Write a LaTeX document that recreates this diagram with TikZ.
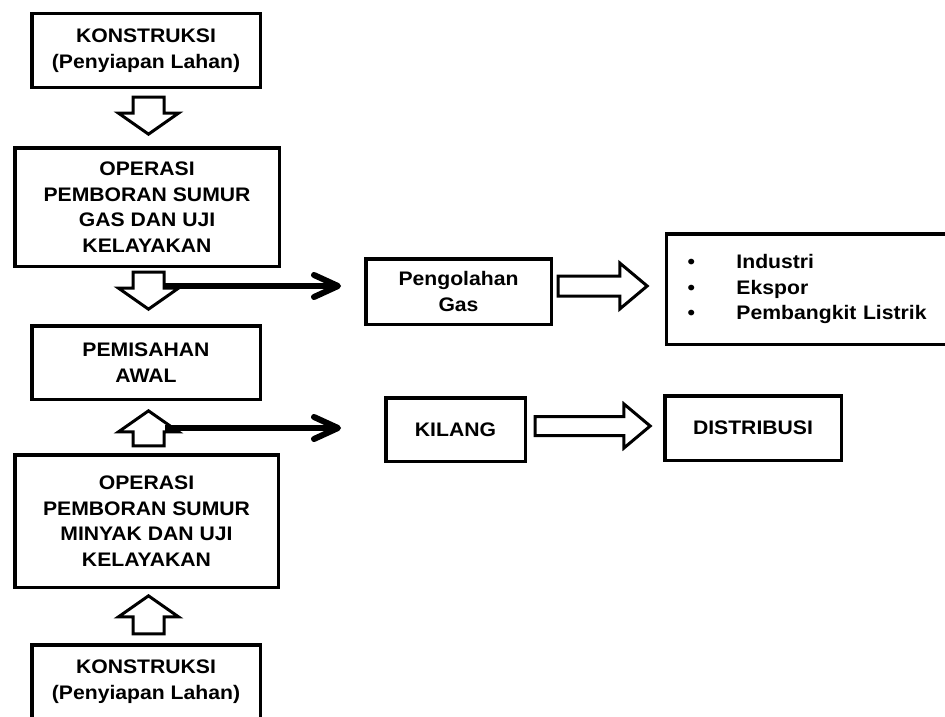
\documentclass[tikz,border=0pt]{standalone}
\usepackage{fontspec}
\setmainfont{Liberation Sans}[FakeStretch=1.08]
\usetikzlibrary{shapes.arrows,arrows.meta}

\begin{document}
\begin{tikzpicture}[x=1pt,y=-1pt]
        \tikzstyle{every node}=[font=\fontsize{19.6}{25.5}\selectfont\bfseries]
        \tikzstyle{kotak}=[draw,line width=3.5pt,align=center,inner sep=0pt]
        \tikzstyle{panah}=[draw,fill=white,single arrow,line width=3pt,inner xsep=0pt,minimum width=0pt,single arrow head indent=0pt,anchor=tip]
        \tikzstyle{panahv}=[panah,inner ysep=14pt,single arrow head extend=14.5pt,single arrow tip angle=110]
        \tikzstyle{panahh}=[panah,single arrow tip angle=80]
        \tikzstyle{alir}=[line width=6pt,-{Straight Barb[length=24pt,width=22pt,round]}]
        \useasboundingbox (0,0) rectangle (945,717);
        % jalur gas dan minyak
        \node[kotak,minimum width=228.5pt,minimum height=73.5pt] (konsA) at (146,50.5) {KONSTRUKSI\\(Penyiapan Lahan)};
        \node[kotak,minimum width=264.5pt,minimum height=118.5pt] (gas) at (147,207) {OPERASI\\PEMBORAN SUMUR\\GAS DAN UJI\\KELAYAKAN};
        \node[kotak,minimum width=228.5pt,minimum height=73.5pt] (pisah) at (146,362.5) {PEMISAHAN\\AWAL};
        \node[kotak,minimum width=263.5pt,minimum height=132.5pt] (minyak) at (146.5,521) {OPERASI\\PEMBORAN SUMUR\\MINYAK DAN UJI\\KELAYAKAN};
        \node[kotak,minimum width=228.5pt,minimum height=73.5pt] (konsB) at (146,681.5) {KONSTRUKSI\\(Penyiapan Lahan)};
        % hasil
        \node[kotak,minimum width=185.5pt,minimum height=65.5pt] (olah) at (458.5,291.5) {Pengolahan\\Gas};
        \node[kotak,text width=300pt,minimum height=110.5pt,align=left,anchor=west] (guna) at (664.75,289)
            {\hspace*{21pt}\makebox[49pt][l]{\textbullet}Industri\\
             \hspace*{21pt}\makebox[49pt][l]{\textbullet}Ekspor\\
             \hspace*{21pt}\makebox[49pt][l]{\textbullet}Pembangkit Listrik};
        \node[kotak,minimum width=139.5pt,minimum height=63.5pt] (kilang) at (455.5,429.5) {KILANG};
        \node[kotak,minimum width=176.5pt,minimum height=64.5pt] (distri) at (753,428) {DISTRIBUSI};
        % panah besar
        \node[panahv,rotate=-90,minimum height=37pt] (turunA) at (148.5,136) {};
        \node[panahv,rotate=-90,minimum height=37pt] (turunB) at (148.5,311) {};
        \node[panahv,rotate=90,minimum height=35pt] (naikA) at (148.5,409) {};
        \node[panahv,rotate=90,minimum height=38pt] (naikB) at (148.5,594) {};
        \node[panahh,inner ysep=8.5pt,single arrow head extend=13pt,minimum height=89pt] (keguna) at (649.5,286) {};
        \node[panahh,inner ysep=8pt,single arrow head extend=12.5pt,minimum height=115pt] (kedistri) at (652.5,426) {};
        % cabang
        \coordinate (cabangA) at (165,286);
        \coordinate (cabangB) at (165,428);
        \draw[alir,shorten >=23pt] (cabangA) -- (cabangA -| olah.west);
        \draw[alir,shorten >=43pt] (cabangB) -- (cabangB -| kilang.west);
\end{tikzpicture}
\end{document}
